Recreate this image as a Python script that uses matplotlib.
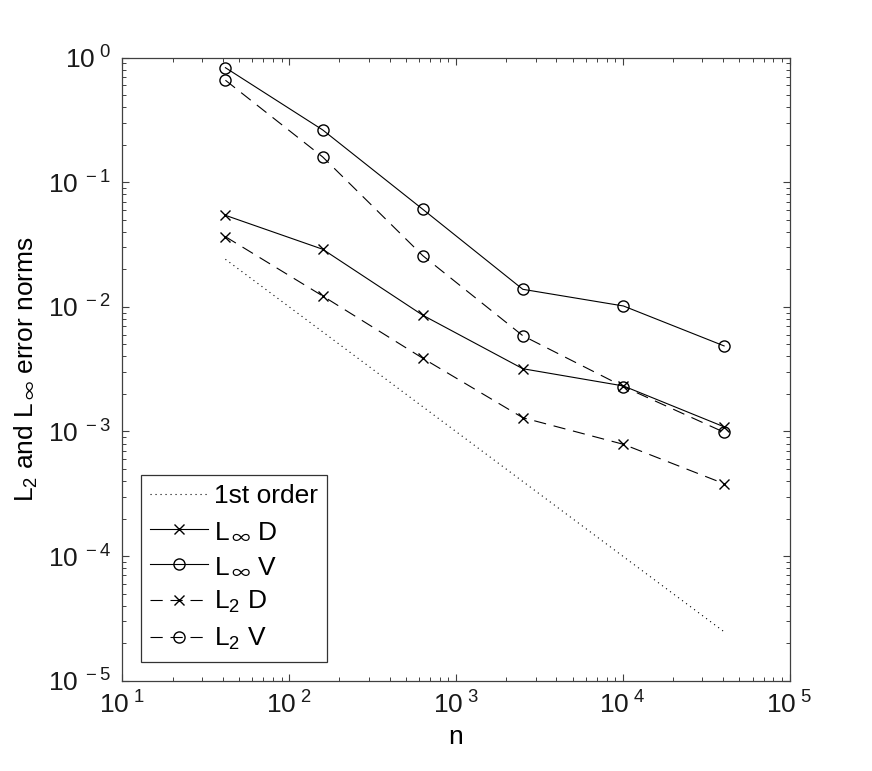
import numpy as np
import matplotlib
matplotlib.use("Agg")
import matplotlib.pyplot as plt
from matplotlib.ticker import LogLocator, FuncFormatter, NullFormatter

plt.rcParams["font.family"] = ["Liberation Sans", "DejaVu Sans"]
plt.rcParams["mathtext.fontset"] = "custom"
plt.rcParams["mathtext.rm"] = "Liberation Sans"
plt.rcParams["mathtext.it"] = "Liberation Sans"
plt.rcParams["mathtext.bf"] = "Liberation Sans"
plt.rcParams["mathtext.sf"] = "Noto Sans CJK JP"

n = [41.5, 159, 633, 2518, 10100, 40550]
first_order = [0.0241, 0.0063, 0.00158, 0.000397, 0.0000990, 0.0000247]
linf_d = [0.0543, 0.0290, 0.00857, 0.00319, 0.00232, 0.00109]
linf_v = [0.831, 0.263, 0.0607, 0.01384, 0.01017, 0.00486]
l2_d = [0.0366, 0.01223, 0.00387, 0.00129, 0.000789, 0.000381]
l2_v = [0.659, 0.1596, 0.02576, 0.00587, 0.00229, 0.000986]

INF = r"$_{\,\mathsf{∞}}$"

fig = plt.figure(figsize=(8.72, 7.71), dpi=100)
ax = fig.add_axes([0.1403, 0.1171, 0.7651, 0.8081])

lw = 0.8
dash = (0, (11, 7))
ax.loglog(n, first_order, color="k", lw=lw, ls=(0, (1, 3.5)), label="1st order")
ax.loglog(n, linf_d, color="k", lw=lw, ls="-", marker="x", ms=7, mew=1.0,
          label="L" + INF + " D")
ax.loglog(n, linf_v, color="k", lw=lw, ls="-", marker="o", ms=8, mew=1.0,
          mfc="none", label="L" + INF + " V")
ax.loglog(n, l2_d, color="k", lw=lw, ls=dash, marker="x", ms=7, mew=1.0,
          label=r"L$_2$ D")
ax.loglog(n, l2_v, color="k", lw=lw, ls=dash, marker="o", ms=8, mew=1.0,
          mfc="none", label=r"L$_2$ V")

ax.set_xlim(10, 1e5)
ax.set_ylim(1e-5, 1)

def sci(v, pos):
    e = int(round(np.log10(v)))
    return r"$\mathregular{10^{\ %d}}$" % e

for axis in (ax.xaxis, ax.yaxis):
    axis.set_major_locator(LogLocator(base=10, numticks=10))
    axis.set_minor_locator(LogLocator(base=10, subs=np.arange(2, 10), numticks=10))
    axis.set_major_formatter(FuncFormatter(sci))
    axis.set_minor_formatter(NullFormatter())

spine_col = "#404040"
for s in ax.spines.values():
    s.set_color(spine_col)
    s.set_linewidth(0.9)
ax.tick_params(which="both", direction="in", top=True, right=True,
               colors=spine_col, labelcolor="#1a1a1a", labelsize=19)
ax.tick_params(which="major", length=5, width=0.8, pad=8)
ax.tick_params(which="minor", length=2.8, width=0.7)

ax.set_xlabel("n", fontsize=19, labelpad=4)
ax.set_ylabel("L$_2$ and L" + INF + " error norms", fontsize=19, labelpad=6)

leg = ax.legend(loc="lower left", bbox_to_anchor=(0.028, 0.0305), borderaxespad=0,
                fontsize=19, numpoints=1, handlelength=2.2, handletextpad=0.2,
                labelspacing=0.42, borderpad=0.35, fancybox=False, framealpha=1)
leg.get_frame().set_edgecolor("#333333")
leg.get_frame().set_linewidth(0.9)

fig.savefig("out.png", dpi=100)
